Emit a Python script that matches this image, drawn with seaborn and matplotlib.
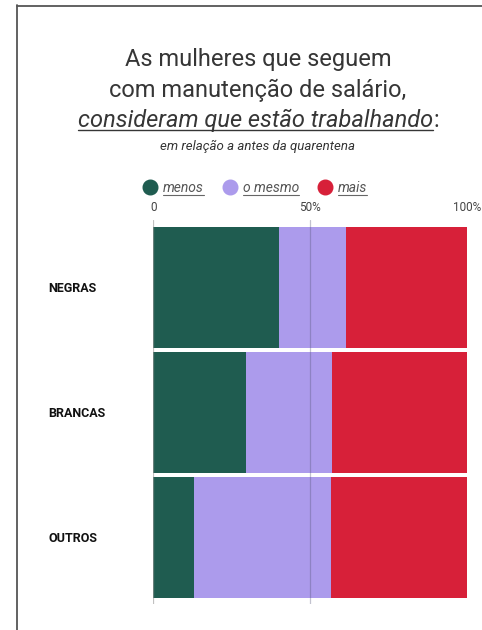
import numpy as np
import pandas as pd
import seaborn as sns
import matplotlib.pyplot as plt
from matplotlib.lines import Line2D

categorias = ['NEGRAS', 'BRANCAS', 'OUTROS']
menos = [40.0, 29.5, 13.0]
o_mesmo = [21.5, 27.5, 43.5]
mais = [38.5, 43.0, 43.5]
series_nomes = ['menos', 'o mesmo', 'mais']
cores = ['#1f5c50', '#ac9bec', '#d72039']
ticks = [0, 50, 100]
tick_labels = ['0', '50%', '100%']

sns.set_theme(style='white')
plt.rcParams['font.family'] = ['Roboto', 'DejaVu Sans']

df = pd.DataFrame({'categoria': categorias, 'menos': menos, 'o mesmo': o_mesmo, 'mais': mais})
df['ate_mesmo'] = df['menos'] + df['o mesmo']
df['total'] = df['ate_mesmo'] + df['mais']

W, H = 482, 630
fig = plt.figure(figsize=(W / 100, H / 100), dpi=100)
fig.patch.set_facecolor('white')
ax = fig.add_axes([153.3 / W, 26 / H, 314 / W, 384 / H])

# barras empilhadas: desenha do total para o primeiro segmento
for col, cor in zip(['total', 'ate_mesmo', 'menos'], cores[::-1]):
    sns.barplot(data=df, x=col, y='categoria', color=cor, width=0.968,
                saturation=1, orient='h', ax=ax, zorder=2, linewidth=0)

ax.set_xlim(0, 100)
ax.set_ylim(2.535, -0.539)
ax.axvline(0, color='#999999', lw=0.9, alpha=0.6, zorder=3)
ax.axvline(50, color='#555577', lw=0.9, alpha=0.35, zorder=3)
for s in ax.spines.values():
    s.set_visible(False)
ax.set_xlabel('')
ax.set_ylabel('')
ax.xaxis.tick_top()
ax.set_xticks(ticks)
ax.set_xticklabels(tick_labels, fontsize=8.5, color='#444444')
ax.tick_params(axis='x', length=0, pad=4)
ax.tick_params(axis='y', length=0, pad=75.6)
for lbl in ax.get_yticklabels():
    lbl.set_ha('left')
    lbl.set_fontweight('bold')
    lbl.set_fontsize(9)
    lbl.set_color('#111111')

# moldura
fig.add_artist(Line2D([17 / W, 17 / W], [0, 1 - 5 / H], color='#555555', lw=1.3))
fig.add_artist(Line2D([17 / W, 1], [1 - 5.5 / H, 1 - 5.5 / H], color='#555555', lw=1.3))

cor_titulo = '#363636'
cx = 258 / W
peso = 'normal'
fig.text(cx, 1 - 66 / H, 'As mulheres que seguem', ha='center', va='baseline',
         fontsize=17, fontweight=peso, color=cor_titulo)
fig.text(cx, 1 - 97 / H, 'com manutenção de salário,', ha='center', va='baseline',
         fontsize=17, fontweight=peso, color=cor_titulo)
t_it = fig.text(0, 1 - 127 / H, 'consideram que estão trabalhando', ha='left', va='baseline',
                fontsize=17, fontweight=peso, style='italic', color=cor_titulo)
t_col = fig.text(0, 1 - 127 / H, ':', ha='left', va='baseline',
                 fontsize=17, fontweight=peso, color=cor_titulo)
fig.text(257 / W, 1 - 150 / H, 'em relação a antes da quarentena', ha='center', va='baseline',
         fontsize=9.5, style='italic', color='#333333')

leg_handles = [Line2D([], [], marker='o', ls='', markersize=10.5, markerfacecolor=c,
                      markeredgecolor=c) for c in cores]
leg = fig.legend(leg_handles, series_nomes, loc='center', bbox_to_anchor=(255 / W, 1 - 188 / H),
                 ncol=3, frameon=False, handlelength=1.0, handletextpad=0.45,
                 columnspacing=1.35, prop={'style': 'italic', 'size': 10})
for t in leg.get_texts():
    t.set_color('#555555')

fig.canvas.draw()
r = fig.canvas.get_renderer()
w1 = t_it.get_window_extent(r).width
w2 = t_col.get_window_extent(r).width
x0 = 258 - (w1 + w2) / 2
t_it.set_x(x0 / W)
t_col.set_x((x0 + w1 + 1) / W)
fig.canvas.draw()

def sublinhar(t, dy, cor, lw):
    bb = t.get_window_extent(r)
    y = (bb.y0 + dy) / H
    fig.add_artist(Line2D([bb.x0 / W, bb.x1 / W], [y, y], color=cor, lw=lw))

sublinhar(t_it, 2, cor_titulo, 1.0)
for t in leg.get_texts():
    sublinhar(t, 0.5, '#666666', 0.8)

fig.savefig('out.png', dpi=100)
